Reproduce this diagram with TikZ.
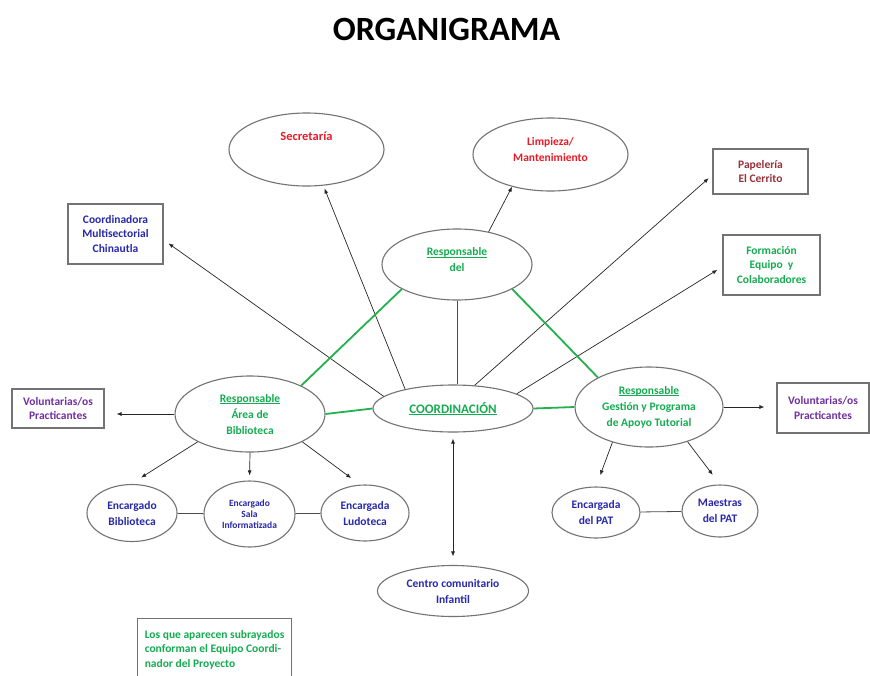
\documentclass[tikz,border=0pt]{standalone}
\usepackage{fontspec}
\setmainfont{Carlito}
\usetikzlibrary{shapes.geometric,arrows.meta}
\definecolor{outl}{RGB}{115,115,115}
\definecolor{cgreen}{RGB}{20,172,80}
\definecolor{lgreen}{RGB}{34,177,76}
\definecolor{cred}{RGB}{232,28,40}
\definecolor{cmaroon}{RGB}{150,50,55}
\definecolor{cblue}{RGB}{40,40,170}
\definecolor{cpurple}{RGB}{112,48,160}
\newcommand{\myul}[1]{\setbox0\hbox{#1}\rlap{\rule[-1.8pt]{\wd0}{0.7pt}}\box0}
\tikzset{
  ell/.style={ellipse, draw=outl, line width=1.1pt, inner sep=0pt, align=center,
    font=\bfseries\fontsize{11.5}{16}\selectfont},
  bx/.style={rectangle, draw=outl, line width=1.1pt, inner sep=0pt, align=center,
    font=\bfseries\fontsize{11.5}{14.5}\selectfont},
  txt/.style={inner sep=0pt, align=center, font=\bfseries\fontsize{11.5}{16}\selectfont},
  arr/.style={draw=black!85, line width=0.7pt, -{Latex[length=5pt,width=4pt]}},
  darr/.style={draw=black!85, line width=0.7pt, {Latex[length=5pt,width=4pt]}-{Latex[length=5pt,width=4pt]}},
  plainln/.style={draw=black!70, line width=0.8pt},
  gline/.style={draw=lgreen, line width=1.8pt}
}
\begin{document}
\begin{tikzpicture}[x=1pt,y=-1pt]
\useasboundingbox (0,0) rectangle (870,675);
\fill[white] (0,0) rectangle (870,675);

% title
\node[inner sep=0pt, font=\bfseries\fontsize{34}{40}\selectfont] (title) at (446.5,29) {ORGANIGRAMA};

% top ellipses
\node[ell, minimum width=155, minimum height=73] (secr) at (306.5,149.5) {};
\node[txt, text=cred, font=\bfseries\fontsize{12.5}{16}\selectfont] (secrt) at (306.5,136) {Secretaría};
\node[ell, minimum width=155, minimum height=73] (limp) at (550.5,154.5) {};
\node[txt, text=cred] (limpt) at (550.5,149.5) {Limpieza/\\Mantenimiento};
\node[ell, minimum width=150, minimum height=71] (respdel) at (457,264.5) {};
\node[txt, text=cgreen] (respdelt) at (457,260) {\myul{Responsable}\\del};

% boxes
\node[bx, text=cmaroon, minimum width=95, minimum height=45] (papel) at (760.5,171.5) {Papelería\\El Cerrito};
\node[bx, text=cblue, minimum width=95, minimum height=60] (coordin) at (115.5,234) {Coordinadora\\Multisectorial\\Chinautla};
\node[bx, text=cgreen, minimum width=97, minimum height=60] (form) at (771.5,265) {Formación\\Equipo\ \ y\\Colaboradores};
\node[bx, text=cpurple, minimum width=92, minimum height=39] (voll) at (58,408.5) {Voluntarias/os\\Practicantes};
\node[bx, text=cpurple, minimum width=92, minimum height=50] (volr) at (823,408) {Voluntarias/os\\Practicantes};

% middle ellipses
\node[ell, text=cgreen, minimum width=150, minimum height=76] (respbib) at (250,414) {\myul{Responsable}\\Área de\\Biblioteca};
\node[ell, text=cgreen, minimum width=160, minimum height=47, font=\bfseries\fontsize{13}{16}\selectfont] (coord) at (453,408.5) {\myul{COORDINACIÓN}};
\node[ell, text=cgreen, minimum width=148, minimum height=80] (gest) at (649,407) {\myul{Responsable}\\Gestión y Programa\\de Apoyo Tutorial};

% bottom ellipses
\node[ell, text=cblue, minimum width=90, minimum height=57] (encbib) at (132,513) {Encargado\\Biblioteca};
\node[ell, text=cblue, minimum width=91, minimum height=66, font=\bfseries\fontsize{9.5}{11}\selectfont] (sala) at (249.5,514) {Encargado\\Sala\\Informatizada};
\node[ell, text=cblue, minimum width=88, minimum height=56] (ludo) at (365,513) {Encargada\\Ludoteca};
\node[ell, text=cblue, minimum width=88, minimum height=51] (encpat) at (596,512.5) {Encargada\\del PAT};
\node[ell, text=cblue, minimum width=76, minimum height=52] (maes) at (720,511) {Maestras\\del PAT};
\node[ell, text=cblue, minimum width=151, minimum height=51] (centro) at (453,591) {Centro comunitario\\Infantil};

% note
\node[bx, text=cgreen, align=left, anchor=north west, minimum width=154, minimum height=62,
  inner xsep=4pt] (note) at (137,618) {Los que aparecen subrayados\\conforman el Equipo Coordi-\\nador del Proyecto};

% arrows from coordination
\draw[arr, shorten >=3pt] (coord.158) -- (secr.-65);
\draw[arr, shorten >=6pt] (coord.170.6) -- (coordin.-7.3);
\draw[arr, shorten >=5pt] (coord.47.6) -- (papel.184);
\draw[arr, shorten >=6pt] (coord.13.8) -- (form.182);
\draw[plainln] (respdel.south) -- (respdel.south |- coord.north);
\draw[arr] (respdel.46.6) -- (limp.-140.5);

% green links
\draw[gline] (respbib.29.4) -- (respdel.-156);
\draw[gline] (respdel.-24) -- (gest.150.7);
\draw[gline] (respbib.east) -- (coord.west);
\draw[gline] (coord.east) -- (gest.west);

% side arrows
\draw[arr, shorten >=12pt] (respbib.west) -- (voll.east |- respbib.west);
\draw[arr, shorten >=12pt] (gest.east) -- (volr.west |- gest.east);

% lower arrows
\draw[arr, shorten >=12pt] (respbib.-152.8) -- (encbib.92);
\draw[arr, shorten >=5pt] (respbib.south) -- (sala.north);
\draw[arr, shorten >=11pt] (respbib.-28) -- (ludo.100);
\draw[arr, shorten >=12pt] (gest.-136.9) -- (encpat.north);
\draw[arr, shorten >=12pt] (gest.-42) -- (maes.north);
\draw[plainln] (encbib) -- (sala);
\draw[plainln] (sala) -- (ludo);
\draw[plainln] (encpat) -- (maes);
\draw[darr, shorten <=6pt, shorten >=8.5pt] (coord.south) -- (centro.north);
\end{tikzpicture}
\end{document}
